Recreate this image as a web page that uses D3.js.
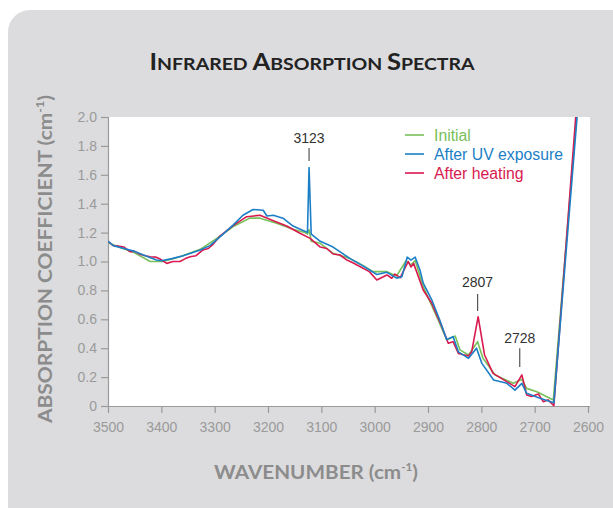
<!DOCTYPE html>
<html><head><meta charset="utf-8">
<script src="https://cdn.jsdelivr.net/npm/d3@7"></script>
<style>
html,body{margin:0;padding:0;background:#fff;}
svg{display:block;}
</style></head>
<body>
<svg id="chart" width="613" height="508"></svg>
<script>
// ---- data ----
const xTicks = [3500, 3400, 3300, 3200, 3100, 3000, 2900, 2800, 2700, 2600];
const yTicks = [0, 0.2, 0.4, 0.6, 0.8, 1.0, 1.2, 1.4, 1.6, 1.8, 2.0];
const seriesNames = ["Initial", "After UV exposure", "After heating"];
const seriesColors = ["#78c05a", "#1c7fc6", "#d81a4f"];

const initialWn = [3500,3480,3450,3421,3397,3365,3327,3296,3266,3234,3215,3184,3153,3131,3126,3123,3119,3102,3078,3046,3028,3003,2977,2959,2941,2932,2924,2909,2878,2865,2849,2840,2824,2807,2797,2774,2740,2724,2715,2696,2665,2617];
const initialVal = [1.13,1.10,1.06,1.00,1.00,1.033,1.084,1.16,1.24,1.30,1.30,1.265,1.223,1.20,1.19,1.22,1.14,1.126,1.057,1.02,0.985,0.93,0.93,0.90,1.005,0.976,1.006,0.826,0.572,0.457,0.484,0.388,0.353,0.445,0.33,0.215,0.157,0.185,0.122,0.099,0.042,2.2];

const uvWn = [3500,3490,3470,3450,3430,3409,3400,3380,3359,3327,3309,3290,3266,3247,3228,3209,3202,3190,3172,3153,3131,3126,3123,3119,3102,3078,3046,3022,2996,2977,2959,2949,2939,2932,2924,2915,2909,2893,2878,2865,2853,2843,2824,2809,2799,2777,2752,2737,2724,2715,2690,2664,2615];
const uvVal = [1.14,1.11,1.09,1.07,1.04,1.01,1.005,1.02,1.04,1.08,1.11,1.17,1.25,1.32,1.36,1.355,1.315,1.32,1.30,1.245,1.21,1.20,1.65,1.19,1.14,1.10,1.02,0.97,0.91,0.925,0.885,0.895,1.03,1.01,1.03,0.94,0.85,0.735,0.595,0.46,0.48,0.375,0.33,0.40,0.295,0.18,0.157,0.11,0.157,0.088,0.053,0.023,2.25];

const heatWn = [3500,3490,3481,3470,3459,3450,3440,3430,3421,3410,3402,3390,3378,3365,3355,3346,3335,3322,3312,3303,3290,3266,3240,3215,3190,3165,3140,3121,3102,3090,3078,3065,3052,3040,3027,3010,2996,2977,2968,2962,2952,2937,2932,2927,2909,2893,2874,2862,2853,2843,2824,2818,2806,2794,2778,2737,2724,2715,2706,2693,2684,2675,2664,2621];
const heatVal = [1.14,1.11,1.107,1.10,1.068,1.07,1.05,1.04,1.033,1.03,1.017,0.987,1.0,1.00,1.02,1.033,1.04,1.08,1.09,1.119,1.176,1.246,1.31,1.32,1.282,1.246,1.195,1.16,1.10,1.09,1.052,1.045,1.01,0.99,0.964,0.93,0.872,0.907,0.884,0.913,0.888,1.0,0.962,0.987,0.803,0.711,0.549,0.434,0.445,0.364,0.346,0.376,0.618,0.353,0.226,0.134,0.215,0.076,0.065,0.083,0.03,0.042,0.002,2.1];

const annotations = [{wn:3123, label:"3123", top:1.82, lineTop:1.785, lineBot:1.695},
                     {wn:2807, label:"2807", top:0.825, lineTop:0.775, lineBot:0.657},
                     {wn:2728, label:"2728", top:0.436, lineTop:0.40, lineBot:0.27}];

// ---- layout ----
const svg = d3.select("#chart");
const L = 108, R = 588, T = 117, B = 406;
const x = d3.scaleLinear().domain([3500, 2600]).range([L, R]);
const y = d3.scaleLinear().domain([0, 2.0]).range([B, T]);
const serif = "Lato, 'Open Sans', sans-serif";

svg.append("rect").attr("x", 8).attr("y", 10).attr("width", 640).attr("height", 520)
  .attr("rx", 22).attr("fill", "#dcdcde");
svg.append("rect").attr("x", L).attr("y", T).attr("width", 590 - L).attr("height", B - T).attr("fill", "#fff");

// title
const title = svg.append("text").attr("x", 312).attr("y", 69.5).attr("text-anchor", "middle")
  .attr("font-family", serif).attr("font-weight", "bold").attr("fill", "#222")
  .attr("textLength", 325).attr("lengthAdjust", "spacingAndGlyphs");
[["I",23],["NFRARED ",17.5],["A",23],["BSORPTION ",17.5],["S",23],["PECTRA",17.5]].forEach(([t,s]) =>
  title.append("tspan").attr("font-size", s).text(t));

const tickFont = "'Liberation Sans', Arial, sans-serif";
const axisColor = "#9a9a9a";

// axes
const xAxis = d3.axisBottom(x).tickValues(xTicks).tickSize(7).tickPadding(9).tickFormat(d3.format("d"));
const gx = svg.append("g").attr("transform", `translate(0,${B})`).call(xAxis);
const yAxis = d3.axisLeft(y).tickValues(yTicks).tickSize(7).tickPadding(4)
  .tickFormat(d => d === 0 ? "0" : d3.format(".1f")(d));
const gy = svg.append("g").attr("transform", `translate(${L},0)`).call(yAxis);
[gx, gy].forEach(g => {
  g.selectAll("path,line").attr("stroke", axisColor).attr("stroke-width", 1.2);
  g.selectAll("text").attr("fill", "#9a9a9a").attr("font-size", 14).attr("font-family", tickFont);
});
gx.select(".domain").attr("d", `M${L},0.5H${590}`);
gy.select(".domain").attr("d", `M0.5,${B}V${T}`);

// axis titles
svg.append("text").attr("x", 316).attr("y", 479).attr("text-anchor", "middle")
  .attr("font-family", serif).attr("font-weight", "bold").attr("font-size", 19.5)
  .attr("fill", "#8c8c8c").attr("textLength", 204).attr("lengthAdjust", "spacingAndGlyphs")
  .call(t => { t.append("tspan").text("WAVENUMBER (cm");
               t.append("tspan").attr("font-size", 11).attr("dy", -8).text("-1");
               t.append("tspan").attr("dy", 8).text(")"); });
svg.append("text").attr("transform", "translate(52,259) rotate(-90)").attr("text-anchor", "middle")
  .attr("font-family", serif).attr("font-weight", "bold").attr("font-size", 18.5)
  .attr("fill", "#8c8c8c").attr("textLength", 328).attr("lengthAdjust", "spacingAndGlyphs")
  .call(t => { t.append("tspan").text("ABSORPTION COEFFICIENT (cm");
               t.append("tspan").attr("font-size", 11).attr("dy", -8).text("-1");
               t.append("tspan").attr("dy", 8).text(")"); });

// curves
svg.append("clipPath").attr("id", "clip").append("rect")
  .attr("x", L).attr("y", T).attr("width", 590 - L).attr("height", B - T + 2);
const line = d3.line().x(d => x(d[0])).y(d => y(d[1]));
const series = [d3.zip(initialWn, initialVal), d3.zip(uvWn, uvVal), d3.zip(heatWn, heatVal)];
const plot = svg.append("g").attr("clip-path", "url(#clip)");
[0, 2, 1].forEach(i => {
  plot.append("path").datum(series[i]).attr("d", line).attr("fill", "none")
    .attr("stroke", seriesColors[i]).attr("stroke-width", 1.6).attr("stroke-linejoin", "round");
});

// annotations
annotations.forEach(a => {
  svg.append("line").attr("x1", x(a.wn)).attr("x2", x(a.wn)).attr("y1", y(a.lineTop)).attr("y2", y(a.lineBot))
    .attr("stroke", "#555").attr("stroke-width", 1.2);
  svg.append("text").attr("x", x(a.wn)).attr("y", y(a.top)).attr("text-anchor", "middle")
    .attr("font-family", tickFont).attr("font-size", 14).attr("fill", "#333").text(a.label);
});

// legend
seriesNames.forEach((n, i) => {
  const yy = 135 + i * 19;
  svg.append("line").attr("x1", 405).attr("x2", 424).attr("y1", yy).attr("y2", yy)
    .attr("stroke", seriesColors[i]).attr("stroke-width", 1.6);
  svg.append("text").attr("x", 434).attr("y", yy + 5.5).attr("font-family", tickFont).attr("font-size", 15.8)
    .attr("fill", seriesColors[i]).text(n);
});
</script>
</body></html>
